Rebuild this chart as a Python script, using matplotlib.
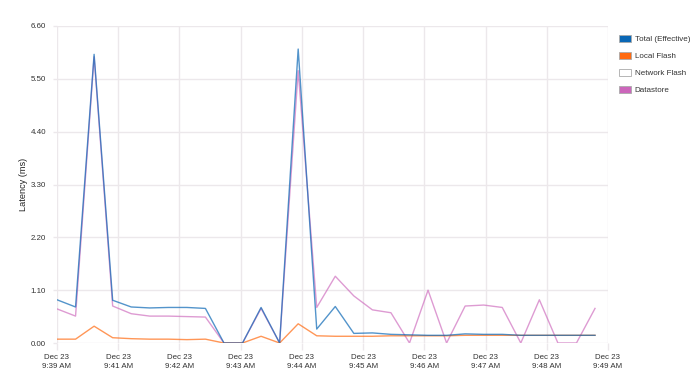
import matplotlib
matplotlib.use("Agg")
import matplotlib.pyplot as plt
import matplotlib.patches as mpatches
import numpy as np

plt.rcParams['font.family'] = ['Liberation Sans', 'DejaVu Sans']

# samples (one every ~18 s)
total = [0.90, 0.75, 6.01, 0.89, 0.75, 0.73, 0.74, 0.74, 0.72, 0.00,
         0.00, 0.74, 0.00, 6.12, 0.29, 0.76, 0.20, 0.21, 0.18, 0.17,
         0.16, 0.16, 0.19, 0.18, 0.18, 0.16, 0.16, 0.16, 0.16, 0.16]
local_flash = [0.08, 0.08, 0.35, 0.11, 0.09, 0.08, 0.08, 0.07, 0.08, 0.00,
               0.00, 0.14, 0.00, 0.40, 0.15, 0.14, 0.14, 0.14, 0.15, 0.15,
               0.15, 0.15, 0.16, 0.16, 0.16, 0.16, 0.16, 0.16, 0.16, 0.16]
datastore = [0.71, 0.56, 5.96, 0.77, 0.61, 0.56, 0.56, 0.55, 0.54, 0.00,
             0.00, 0.72, 0.00, 5.67, 0.74, 1.39, 0.98, 0.69, 0.63, 0.00,
             1.10, 0.00, 0.77, 0.79, 0.74, 0.00, 0.90, 0.00, 0.00, 0.72]

tick_pos = [0, 3.3, 6.6, 9.9, 13.2, 16.5, 19.8, 23.1, 26.4, 29.7]
tick_labels = ["Dec 23\n9:39 AM", "Dec 23\n9:41 AM", "Dec 23\n9:42 AM",
               "Dec 23\n9:43 AM", "Dec 23\n9:44 AM", "Dec 23\n9:45 AM",
               "Dec 23\n9:46 AM", "Dec 23\n9:47 AM", "Dec 23\n9:48 AM",
               "Dec 23\n9:49 AM"]
y_ticks = [0.0, 1.1, 2.2, 3.3, 4.4, 5.5, 6.6]

series_names = ["Total (Effective)", "Local Flash", "Network Flash", "Datastore"]
series_colors = ["#0a67b5", "#ff6a10", "#ffffff", "#cc66bb"]

fig = plt.figure(figsize=(7.0, 3.79), dpi=100)
ax = fig.add_axes([57 / 700, 1 - 343 / 379, 551 / 700, 317 / 379])

x = np.arange(len(total))
ax.plot(x, datastore, color=series_colors[3], lw=1.0, alpha=0.65, zorder=3)
ax.plot(x, local_flash, color=series_colors[1], lw=1.0, alpha=0.7, zorder=3)
ax.plot(x, total, color=series_colors[0], lw=1.0, alpha=0.7, zorder=4)

ax.set_xlim(tick_pos[0], tick_pos[-1])
ax.set_ylim(0, 6.6)
ax.set_xticks(tick_pos)
ax.set_xticklabels(tick_labels, linespacing=1.35)
ax.set_yticks(y_ticks)
ax.set_yticklabels([f"{v:.2f}" for v in y_ticks])

grid_c = "#ece8eb"
ax.grid(True, color=grid_c, lw=1.0, zorder=0)
for s in ax.spines.values():
    s.set_visible(False)
ax.tick_params(axis='x', length=5, color=grid_c, width=1.0, pad=3,
               labelsize=5.7, labelcolor="#333333")
ax.tick_params(axis='y', length=3, color=grid_c, width=1.0, pad=5,
               labelsize=5.7, labelcolor="#333333")
ax.set_ylabel("Latency (ms)", fontsize=6.6, color="#222222", labelpad=1.5)

handles = [mpatches.Patch(facecolor=c, edgecolor="#aaaaaa", lw=0.6)
           for c in series_colors]
leg = fig.legend(handles, series_names, loc='upper left',
                 bbox_to_anchor=(616 / 700, 1 - 31.5 / 379), frameon=False,
                 fontsize=5.8, handlelength=1.4, handleheight=1.0,
                 handletextpad=0.5, labelspacing=1.08, borderaxespad=0)
for t in leg.get_texts():
    t.set_color("#333333")

fig.savefig("out.png", dpi=100)
